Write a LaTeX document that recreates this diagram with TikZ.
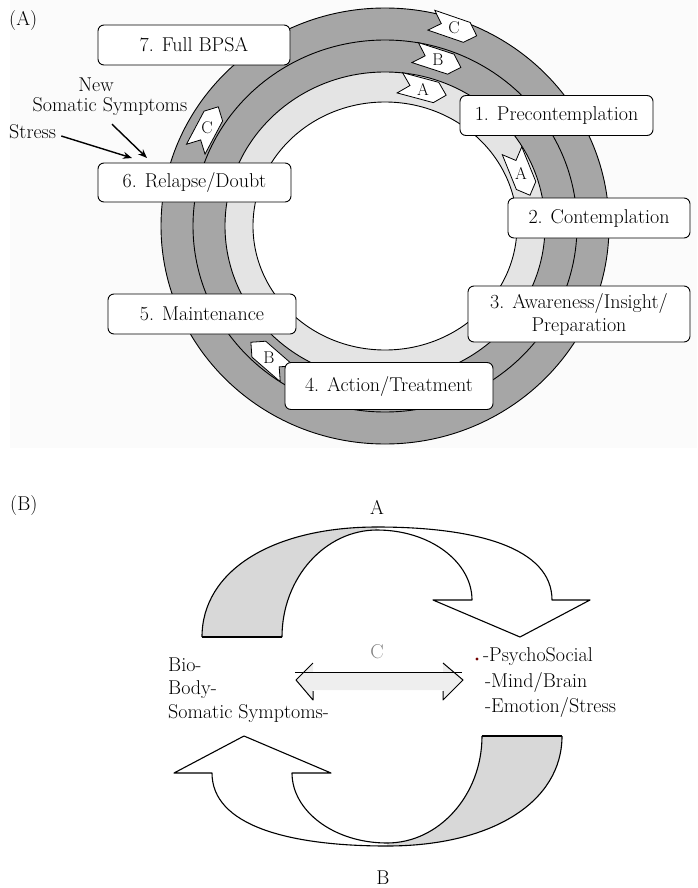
\documentclass[tikz,border=0pt]{standalone}
\usetikzlibrary{shapes.symbols,arrows.meta}
\definecolor{ringdark}{RGB}{166,166,166}
\definecolor{ringlight}{RGB}{228,228,228}
\definecolor{arrgray}{RGB}{216,216,216}
\definecolor{panelbg}{RGB}{251,251,251}
\definecolor{shaftgray}{RGB}{238,238,238}
\begin{document}
\begin{tikzpicture}[x=1pt,y=-1pt,
  font=\fontsize{20}{23}\selectfont,
  stage/.style={draw, fill=white, rounded corners=6pt, line width=0.9pt, align=center, inner sep=2pt},
  sig/.style={signal, signal to=east, signal from=west, draw, fill=white, line width=0.8pt,
              minimum width=48pt, minimum height=21pt, inner sep=0pt},
  siglabel/.style={font=\fontsize{17}{17}\selectfont, inner sep=0pt},
  ringline/.style={line width=0.9pt},
  annarrow/.style={-{Stealth[length=9pt,width=7pt]}, line width=1.4pt},
  bandline/.style={line width=1.1pt, line join=round}]
\useasboundingbox (0,0) rectangle (697,888);
% ---------------- Panel A ----------------
\fill[panelbg] (10,0) rectangle (697,448);
\fill[ringdark] (385,226) ellipse [x radius=224pt, y radius=218pt];
\fill[ringlight] (385,226) ellipse [x radius=160pt, y radius=154pt];
\fill[white] (385,226) ellipse [x radius=132pt, y radius=124pt];
\draw[ringline] (385,226) ellipse [x radius=224pt, y radius=218pt];
\draw[ringline] (385,226) ellipse [x radius=192pt, y radius=186pt];
\draw[ringline] (385,226) ellipse [x radius=160pt, y radius=154pt];
\draw[ringline] (385,226) ellipse [x radius=132pt, y radius=124pt];
% direction markers
\node[sig, rotate=-19] (mC1) at (454,28) {};
\node[siglabel] at (mC1.center) {C};
\node[sig, rotate=-18] (mB1) at (438,60) {};
\node[siglabel] at (mB1.center) {B};
\node[sig, rotate=-15] (mA1) at (423,89) {};
\node[siglabel] at (mA1.center) {A};
\node[sig, rotate=-68] (mA2) at (521,173) {};
\node[siglabel] at (mA2.center) {A};
\node[sig, rotate=62] (mC2) at (207,128) {};
\node[siglabel] at (mC2.center) {C};
\node[sig, rotate=139] (mB2) at (269,358) {};
\node[siglabel] at (mB2.center) {B};
% stage boxes
\node[stage, minimum width=193pt, minimum height=40pt] (s1) at (556.5,115.5) {1. Precontemplation};
\node[stage, minimum width=182pt, minimum height=40pt] (s2) at (599,218) {2. Contemplation};
\node[stage, minimum width=222pt, minimum height=56pt] (s3) at (579,314) {3. Awareness/Insight/\\Preparation};
\node[stage, minimum width=208pt, minimum height=47pt] (s4) at (389,386) {4. Action/Treatment};
\node[stage, minimum width=188pt, minimum height=40pt] (s5) at (202,314) {5. Maintenance};
\node[stage, minimum width=193pt, minimum height=39pt] (s6) at (194.5,182.5) {6. Relapse/Doubt};
\node[stage, minimum width=192pt, minimum height=40pt] (s7) at (194,45) {7. Full BPSA};
% labels and stressor arrows
\node[anchor=west, inner sep=0pt] (labA) at (9,21) {(A)};
\node[inner sep=0pt] (new) at (96,85) {New};
\node[inner sep=0pt] (soma) at (110,107) {Somatic Symptoms};
\node[anchor=west, inner sep=0pt] (stress) at (9,132) {Stress};
\coordinate (stressend) at (132,158);
\coordinate (somaend) at (147,158);
\draw[annarrow] ([shift={(5,4)}]stress.east) -- (stressend);
\draw[annarrow] ([shift={(2,8)}]soma.south) -- (somaend);
% ---------------- Panel B ----------------
\node[anchor=west, inner sep=0pt] (labB) at (10,506) {(B)};
\node[inner sep=0pt] (topA) at (377,507) {A};
\node[inner sep=0pt] (botB) at (383,878) {B};
\node[inner sep=0pt, text=gray] (labC) at (377,652) {C};
% top curved arrow
\begin{scope}
  \fill[arrgray] (202,637) .. controls (202,571) and (272,527) .. (377,527)
     -- (377,530) .. controls (325,530) and (282,578) .. (282,637) -- cycle;
  \filldraw[fill=white, bandline] (377,527) .. controls (477,527) and (552,548) .. (552,600)
     -- (590,600) -- (520,637) -- (433,600) -- (472,600)
     .. controls (472,562) and (430,530) .. (377,530);
  \draw[bandline] (202,637) .. controls (202,571) and (272,527) .. (377,527);
  \draw[bandline] (282,637) .. controls (282,578) and (325,530) .. (377,530);
  \draw[bandline] (202,637) -- (282,637);
\end{scope}
% bottom curved arrow (same shape turned half round)
\begin{scope}[rotate around={180:(382,686.5)}]
  \fill[arrgray] (202,637) .. controls (202,571) and (272,527) .. (377,527)
     -- (377,530) .. controls (325,530) and (282,578) .. (282,637) -- cycle;
  \filldraw[fill=white, bandline] (377,527) .. controls (477,527) and (552,548) .. (552,600)
     -- (590,600) -- (520,637) -- (433,600) -- (472,600)
     .. controls (472,562) and (430,530) .. (377,530);
  \draw[bandline] (202,637) .. controls (202,571) and (272,527) .. (377,527);
  \draw[bandline] (282,637) .. controls (282,578) and (325,530) .. (377,530);
  \draw[bandline] (202,637) -- (282,637);
\end{scope}
% double arrow C
\fill[shaftgray] (296,680) -- (313,663) -- (313,672) -- (443,672) -- (443,663) -- (463,680)
   -- (443,700) -- (443,690) -- (313,690) -- (313,700) -- cycle;
\draw[line width=1pt] (295,672) -- (462,672);
\draw[line width=1pt, line join=round] (313,663) -- (296,680) -- (313,700) -- (313,691);
\draw[line width=1pt, line join=round] (443,663) -- (463,680) -- (443,700) -- (443,691);
% side texts
\node[anchor=west, inner sep=0pt] (bio) at (168,665) {Bio-};
\node[anchor=west, inner sep=0pt] (body) at (168,690) {Body-};
\node[anchor=west, inner sep=0pt] (somB) at (168,714) {Somatic Symptoms-};
\fill[red!45!black] (477,659) circle (1.6pt);
\node[anchor=west, inner sep=0pt] (psy) at (483,657) {-PsychoSocial};
\node[anchor=west, inner sep=0pt] (mind) at (485,682) {-Mind/Brain};
\node[anchor=west, inner sep=0pt] (emo) at (485,707) {-Emotion/Stress};
\end{tikzpicture}
\end{document}
